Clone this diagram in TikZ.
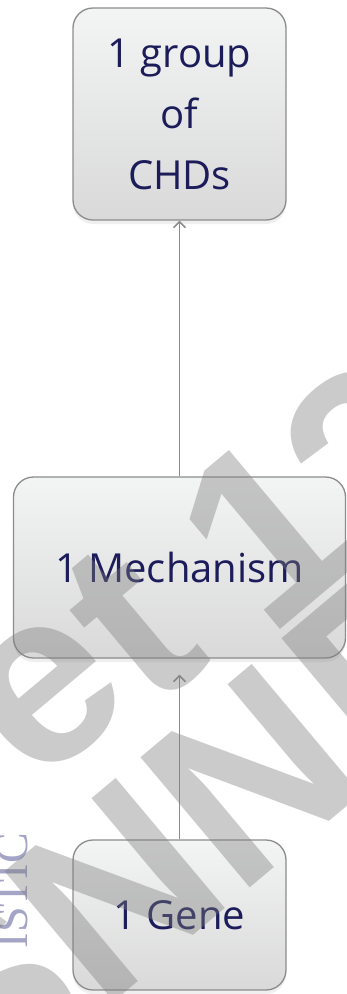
\documentclass[tikz,border=0pt]{standalone}
\usepackage{fontspec}
\setmainfont{Open Sans}
\newfontfamily\wmfont{Liberation Sans}
\newfontfamily\logofont{Liberation Serif}
\usetikzlibrary{arrows.meta,shadows}
\definecolor{txt}{HTML}{1C1C5A}
\definecolor{boxline}{HTML}{8C8C8C}
\definecolor{boxtop}{HTML}{F3F4F4}
\definecolor{boxbot}{HTML}{D9D9D9}
\definecolor{wmgray}{HTML}{7D7D7D}
\definecolor{logoblue}{HTML}{5A5A98}
\begin{document}
\begin{tikzpicture}[x=1pt,y=-1pt,
  box/.style={draw=boxline, line width=1.3pt, rounded corners=20pt,
    top color=boxtop, bottom color=boxbot, inner sep=0pt, text=txt,
    font=\fontsize{40}{61}\selectfont, align=center,
    drop shadow={opacity=0.12, shadow xshift=0pt, shadow yshift=-4pt}},
  link/.style={draw=boxline, line width=1.5pt,
    -{Straight Barb[length=6pt,width=12pt,line width=1.5pt]}},
  wm/.style={text=wmgray, opacity=0.4, inner sep=0pt, rotate=40,
    font=\wmfont\bfseries\fontsize{247}{247}\selectfont},
  logo/.style={text=logoblue, opacity=0.55, inner sep=0pt, rotate=90,
    font=\logofont\fontsize{46}{46}\selectfont}
]
\useasboundingbox (0,0) rectangle (346,994);
\fill[white] (0,0) rectangle (346,994);

\node[logo, anchor=east] (istic) at (12,833) {ISTIC};

\node[box, minimum width=213pt, minimum height=212pt] (chd) at (179.5,114) {1 group\\of\\CHDs};
\node[box, minimum width=332pt, minimum height=181pt] (mech) at (179.5,567.5) {1 Mechanism};
\node[box, minimum width=213pt, minimum height=150pt] (gene) at (179.5,915) {1 Gene};

\draw[link] (mech.north) -- (chd.south);
\draw[link, shorten >=16pt] (gene.north) -- (mech.south);

\begin{scope}
\clip (0,0) rectangle (346,994);
\node[wm] (w1) at (46,695) {e};
\node[wm] (w2) at (132,625) {t};
\node[wm] (w3) at (266,530) {1};
\node[wm] (w4) at (371,455) {2};
\node[wm] (w5) at (-16,1000) {S};
\node[wm] (w6) at (115,890) {N};
\node[wm] (w7) at (251,776) {N};
\node[wm] (w8) at (387,661) {E};
\end{scope}
\end{tikzpicture}
\end{document}
